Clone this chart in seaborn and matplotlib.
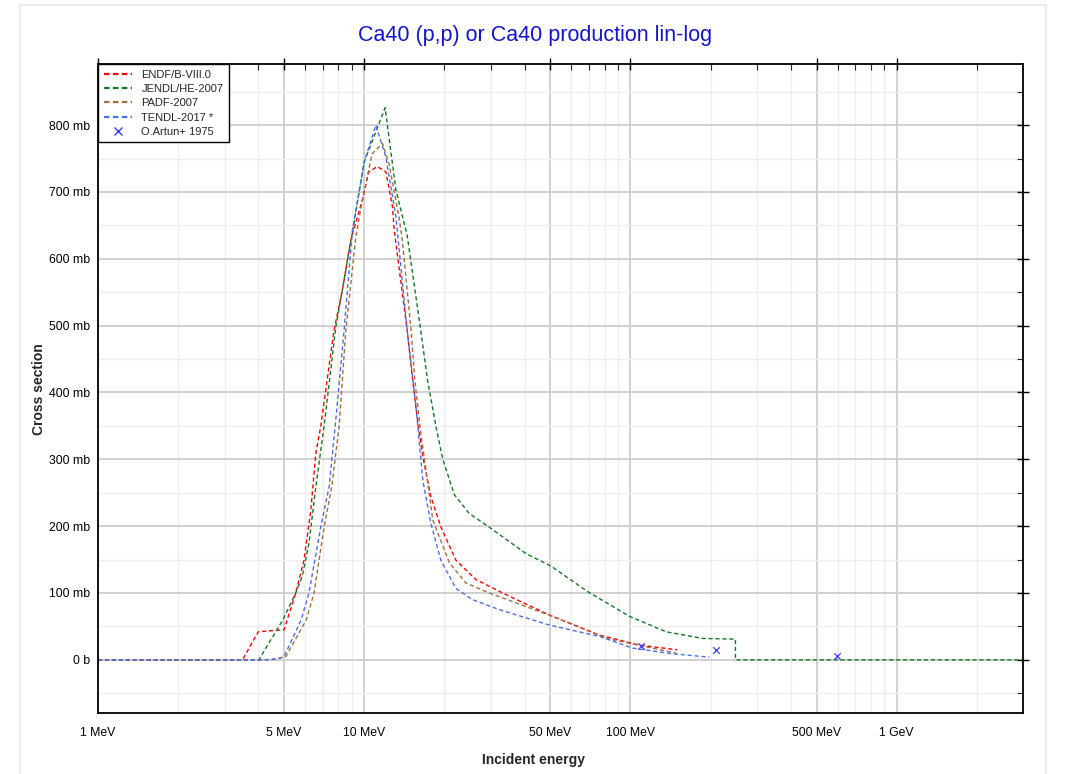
import matplotlib
matplotlib.use('Agg')
import matplotlib.pyplot as plt
from matplotlib.lines import Line2D
from matplotlib.patches import Rectangle
import matplotlib.ticker as mticker
import numpy as np
import pandas as pd
import seaborn as sns

# incident energy in MeV, cross section in mb
endf_e = [1, 3.49, 4.0, 5.0, 5.14, 5.53, 5.94, 6.3, 6.58, 6.87, 7.7, 8.28, 8.9, 9.84, 10.4, 11.2,
          12.06, 12.77, 12.96, 14.5, 15.2, 15.9, 16.6, 17.8, 19.4, 22.1, 26.3, 33.1, 49.6, 76.5, 108, 150]
endf_xs = [0, 0, 42, 45, 60, 100, 149, 224, 309, 350, 493, 553, 628, 688, 730, 738,
           730, 678, 643, 493, 418, 355, 304, 244, 199, 149, 120, 100, 67, 37, 22, 15]

jendl_e = [1, 4.02, 4.95, 5.53, 5.85, 6.2, 6.58, 7.07, 7.82, 9.03, 10.0, 11.98, 13.15, 14.5, 16.3, 17.3,
           18.6, 19.7, 21.8, 24.8, 29.1, 40.5, 50.4, 69.1, 99.2, 136, 187, 248, 248, 3000]
jendl_xs = [0, 0, 60, 100, 125, 174, 259, 350, 498, 640, 745, 826, 703, 635, 493, 418,
            349, 301, 247, 219, 200, 159, 140, 102, 65, 42, 32, 31, 0, 0]

padf_e = [1, 4.5, 5.08, 6.06, 6.48, 7.07, 7.55, 8.05, 8.53, 9.3, 9.84, 10.7, 11.7, 12.4, 13.5, 13.9,
          15.0, 15.5, 16.2, 18.1, 20.9, 24.1, 29.5, 51, 81.5, 148.6]
padf_xs = [0, 0, 5, 60, 100, 199, 259, 350, 493, 633, 688, 757, 773, 742, 663, 628,
           493, 418, 349, 209, 145, 115, 100, 65, 32, 10]

tendl_e = [1, 4.2, 4.8, 5.0, 5.8, 6.2, 6.87, 7.38, 7.82, 8.4, 9.03, 10.0, 11.06, 12.06, 13.15, 14.5,
           15.6, 16.6, 17.8, 19.4, 22.1, 25.5, 32.2, 49.6, 76.5, 102, 144, 198]
tendl_xs = [0, 0, 2, 5, 60, 100, 199, 259, 359, 493, 643, 745, 800, 752, 663, 493,
            384, 269, 204, 149, 107, 90, 75, 52, 35, 17.5, 9, 4]

artun_e = [109.8, 209, 596]
artun_xs = [21, 14, 5]

libs = ['ENDF/B-VIII.0', 'JENDL/HE-2007', 'PADF-2007', 'TENDL-2017 *']
colors = ['#ff0000', '#137a1f', '#a26d3f', '#4a70e6']
series = [(endf_e, endf_xs), (jendl_e, jendl_xs), (padf_e, padf_xs), (tendl_e, tendl_xs)]

xmajor = [1, 5, 10, 50, 100, 500, 1000]
xmajor_labels = ['1 MeV', '5 MeV', '10 MeV', '50 MeV', '100 MeV', '500 MeV', '1 GeV']
ymajor = [0, 100, 200, 300, 400, 500, 600, 700, 800]
ymajor_labels = ['0 b', '100 mb', '200 mb', '300 mb', '400 mb', '500 mb', '600 mb', '700 mb', '800 mb']

sns.set_style('white')
plt.rcParams['font.family'] = ['Liberation Sans', 'DejaVu Sans']

fig = plt.figure(figsize=(10.71, 7.74), dpi=100)
ax = fig.add_axes([98 / 1071, 1 - 713.3 / 774, (1023.3 - 98) / 1071, (713.3 - 64.3) / 774])

for (e, xs), lib, c in zip(series, libs, colors):
    df = pd.DataFrame({'E': e, 'xs': xs})
    sns.lineplot(data=df, x='E', y='xs', estimator=None, sort=False, color=c,
                 linewidth=1.0, linestyle=(0, (3, 2)), ax=ax, legend=False)

pts = pd.DataFrame({'E': artun_e, 'xs': artun_xs})
sns.scatterplot(data=pts, x='E', y='xs', marker='x', color='#3b3bff', s=22, linewidth=0.9,
                ax=ax, legend=False, zorder=5)

ax.set_xscale('log')
ax.set_xlim(1, 2990)
ax.set_ylim(-80, 891)

minor_x = [m * 10 ** k for k in range(4) for m in range(1, 10)]
minor_x = [v for v in minor_x if v not in xmajor and v <= 3000]
ax.xaxis.set_major_locator(mticker.FixedLocator(xmajor))
ax.xaxis.set_major_formatter(mticker.FixedFormatter(xmajor_labels))
ax.xaxis.set_minor_locator(mticker.FixedLocator(minor_x))
ax.xaxis.set_minor_formatter(mticker.NullFormatter())
ax.yaxis.set_major_locator(mticker.FixedLocator(ymajor))
ax.yaxis.set_major_formatter(mticker.FixedFormatter(ymajor_labels))
ax.yaxis.set_minor_locator(mticker.FixedLocator(np.arange(-50, 900, 100)))

ax.grid(which='major', color='#d0d0d0', linewidth=1.4)
ax.grid(which='minor', color='#eeeeee', linewidth=1.0)
ax.set_axisbelow(True)

ax.tick_params(which='major', direction='inout', length=8, width=1, labelsize=8.8,
               top=True, right=True, colors='black')
ax.tick_params(axis='x', which='major', pad=6)
ax.tick_params(axis='y', which='major', pad=2)
ax.tick_params(which='minor', direction='in', length=4, width=0.8, top=True, right=True)
for sp in ax.spines.values():
    sp.set_color('black')
    sp.set_linewidth(1.3)

ax.set_xlabel('Incident energy', fontsize=10, fontweight='bold')
ax.set_ylabel('Cross section', fontsize=10, fontweight='bold')
ax.xaxis.set_label_coords(0.4707, -0.061)
ax.yaxis.set_label_coords(-0.056, 0.5)

fig.suptitle('Ca40 (p,p) or Ca40 production lin-log', x=0.5, y=1 - 35 / 774, va='center',
             fontsize=15.5, color='#1414cc')

handles = [Line2D([], [], color=c, linestyle=(0, (2.5, 1.5)), linewidth=1.6) for c in colors]
handles.append(Line2D([], [], color='#3b3bff', marker='x', linestyle='none', markersize=6))
leg = ax.legend(handles, libs + ['O.Artun+ 1975'], loc='upper left', fontsize=8,
                borderaxespad=0, fancybox=False, framealpha=1, edgecolor='black',
                handlelength=2.6, labelspacing=0.38, borderpad=0.5)
leg.get_frame().set_linewidth(1.0)

fig.add_artist(Rectangle((20 / 1071, -0.02), (1046 - 20) / 1071, 1.02 - 5 / 774,
                         transform=fig.transFigure, fill=False, edgecolor='#ebebeb', linewidth=1.5))

fig.savefig('out.png', dpi=100)
